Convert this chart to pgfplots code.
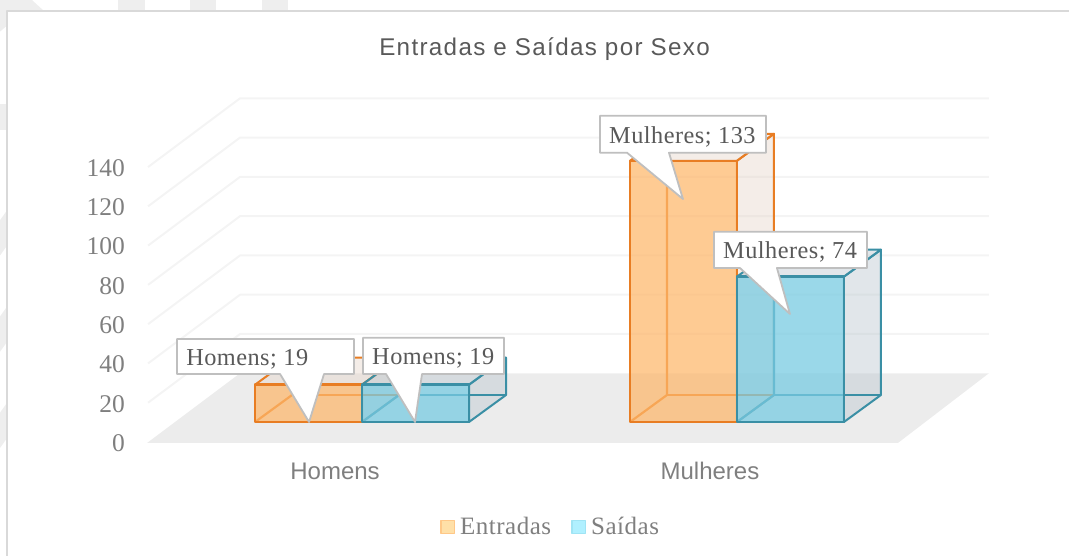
\documentclass[border=0pt]{standalone}
\usepackage{fontspec}
\usepackage{pgfplots}
\pgfplotsset{compat=1.18}
\setmainfont{Liberation Serif}
\newfontfamily\sansfont{Liberation Sans}
\newfontfamily\titlefont[LetterSpace=5.5]{Liberation Sans}
\newfontfamily\lblfont[LetterSpace=2]{Liberation Serif}

\definecolor{wm}{HTML}{EEEEEE}
\definecolor{frame}{HTML}{D9D9D9}
\definecolor{gridc}{HTML}{F4F4F4}
\definecolor{floorc}{HTML}{ECECEC}
\definecolor{txt}{HTML}{595959}
\definecolor{tick}{HTML}{7F7F7F}
\definecolor{orEdge}{HTML}{E87D23}
\definecolor{orFill}{HTML}{FEB76A}
\definecolor{orSide}{HTML}{E6D6CB}
\definecolor{blEdge}{HTML}{3A8FA5}
\definecolor{blFill}{HTML}{78CBE2}
\definecolor{blSide}{HTML}{BCC8D0}

% one box: edge, fill, side colour, front opacity, x left, x right, value
% front face starts at 10.18, depth is 37 px in x and 13.75 units in y
\newcommand{\boxbar}[7]{%
  \pgfmathsetmacro\vt{10.18+#7}%
  \pgfmathsetmacro\vb{23.93+#7}%
  \pgfmathsetmacro\xl{#5+37}%
  \pgfmathsetmacro\xr{#6+37}%
  \addplot[draw=#1,line width=2pt,fill=#3,fill opacity=0.45] coordinates {(#6,10.18) (\xr,23.93) (\xr,\vb) (#6,\vt)} --cycle;
  \addplot[draw=#1,line width=2pt,fill=#3,fill opacity=0.45] coordinates {(#5,\vt) (\xl,\vb) (\xr,\vb) (#6,\vt)} --cycle;
  \addplot[draw=#1,line width=2.2pt] coordinates {(#5,10.18) (\xl,23.93) (\xl,\vb)};
  \addplot[draw=#1,line width=2.2pt] coordinates {(\xl,23.93) (\xr,23.93)};
  \addplot[draw=#1,line width=2.4pt,fill=#2,fill opacity=#4] coordinates {(#5,10.18) (#6,10.18) (#6,\vt) (#5,\vt)} --cycle;
}

% callout: box x0 x1, top, bottom, tail x0 x1, tip x, tip y, label
\newcommand{\callout}[9]{%
  \addplot[draw=black!25,line width=1.8pt,fill=white] coordinates {(#1,#3) (#2,#3) (#2,#4) (#6,#4) (#7,#8) (#5,#4) (#1,#4)} --cycle;
  \node[font=\lblfont\fontsize{24.3}{27}\selectfont,text=txt,anchor=west,inner sep=0pt] at (axis cs:{#1+9},{(#3+#4)/2-1.3}) {#9};
}

\begin{document}
\begin{tikzpicture}
\begin{axis}[
    scale only axis,
    width=1069pt,
    height=556pt,
    xmin=0, xmax=1069,
    ymin=-58.04, ymax=225.0,
    axis line style={draw=none},
    major tick length=0pt,
    clip=true,
    every axis plot/.append style={forget plot,line join=round},
    title={{\titlefont\fontsize{24.2}{28}\selectfont Entradas e Saídas por Sexo}},
    title style={at={(0.5094,0.9011)},anchor=center,text=txt,inner sep=0pt},
    ytick={0,20,40,60,80,100,120,140},
    /pgf/number format/assume math mode=true,
    yticklabel style={anchor=east,xshift=125pt,yshift=-1pt,font=\fontsize{25.5}{28}\selectfont,text=tick,inner sep=0pt},
    xtick={335,710},
    xticklabels={Homens,Mulheres},
    xticklabel style={anchor=center,yshift=85pt,font=\sansfont\fontsize{24}{27}\selectfont,text=tick,inner sep=0pt},
    legend columns=2,
    legend style={at={(0.5150,0.0522)},anchor=center,draw=none,fill=none,
      font=\lblfont\fontsize{25}{28}\selectfont,text=tick,inner sep=0pt,
      /tikz/every even column/.append style={column sep=18pt},
      /tikz/every odd column/.append style={column sep=3pt}},
    legend cell align=left,
]
% watermark behind the chart area
\addplot[draw=none,fill=wm] coordinates {(118,225) (145,225) (145,219) (118,219)} --cycle;
\addplot[draw=none,fill=wm] coordinates {(190,225) (216,225) (216,219) (190,219)} --cycle;
\addplot[draw=none,fill=wm] coordinates {(262,225) (288,225) (288,219) (262,219)} --cycle;
\addplot[draw=none,fill=wm] coordinates {(0,225) (32,225) (44,219.4) (7,219.4) (7,212) (0,209)} --cycle;
\addplot[draw=none,fill=wm] coordinates {(0,172) (7,172) (7,159) (0,159)} --cycle;
\addplot[draw=none,fill=wm] coordinates {(0,113) (7,118) (7,100) (0,95)} --cycle;
\addplot[draw=none,fill=wm] coordinates {(0,64) (7,69) (7,51) (0,46)} --cycle;
\addplot[draw=none,fill=wm] coordinates {(0,15) (7,20) (7,2) (0,-3)} --cycle;
% chart frame
\addplot[draw=frame,line width=2pt] coordinates {(7,-58.04) (7,219.4) (1069,219.4)};
% walls
\addplot[draw=gridc,line width=2pt] coordinates {(148,20) (240,55) (989,55)};
\addplot[draw=gridc,line width=2pt] coordinates {(148,40) (240,75) (989,75)};
\addplot[draw=gridc,line width=2pt] coordinates {(148,60) (240,95) (989,95)};
\addplot[draw=gridc,line width=2pt] coordinates {(148,80) (240,115) (989,115)};
\addplot[draw=gridc,line width=2pt] coordinates {(148,100) (240,135) (989,135)};
\addplot[draw=gridc,line width=2pt] coordinates {(148,120) (240,155) (989,155)};
\addplot[draw=gridc,line width=2pt] coordinates {(148,140) (240,175) (989,175)};
% floor
\addplot[draw=none,fill=floorc] coordinates {(147,-0.5) (898,-0.5) (989,35) (240,35)} --cycle;
% bars
\boxbar{orEdge}{orFill}{orSide}{0.72}{255}{362}{19}
\boxbar{blEdge}{blFill}{blSide}{0.75}{362}{469}{19}
\boxbar{orEdge}{orFill}{orSide}{0.72}{630}{737}{133}
\boxbar{blEdge}{blFill}{blSide}{0.75}{737}{844}{74}
% data labels
\callout{177}{354}{52.44}{34.62}{280}{324}{309}{10.18}{Homens; 19}
\callout{363}{504}{53.10}{34.62}{386}{422}{415}{10.18}{Homens; 19}
\callout{600}{766}{166.1}{147.3}{627}{669}{683}{123.7}{Mulheres; 133}
\callout{714}{867}{107.06}{88.58}{740}{777}{790}{65.16}{Mulheres; 74}
% legend
\definecolor{lgOrF}{HTML}{FFE0A8}
\definecolor{lgOrD}{HTML}{FFC888}
\definecolor{lgBlF}{HTML}{B0F0FF}
\definecolor{lgBlD}{HTML}{A0E4F4}
\addlegendimage{legend image code/.code={\draw[draw=lgOrD,fill=lgOrF,line width=1.6pt] (0pt,-6.5pt) rectangle (13.5pt,6.5pt);}}
\addlegendentry{Entradas}
\addlegendimage{legend image code/.code={\draw[draw=lgBlD,fill=lgBlF,line width=1.6pt] (0pt,-6.5pt) rectangle (13.5pt,6.5pt);}}
\addlegendentry{Saídas}
\end{axis}
\end{tikzpicture}
\end{document}
